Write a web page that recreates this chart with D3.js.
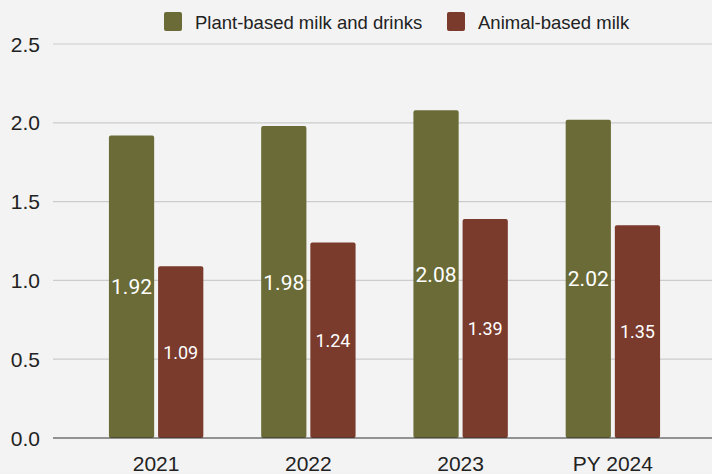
<!DOCTYPE html>
<html><head><meta charset="utf-8">
<script src="https://cdn.jsdelivr.net/npm/d3@7"></script>
<style>html,body{margin:0;padding:0;background:#f3f3f3;}</style>
</head><body>
<svg id="chart" width="712" height="474"></svg>
<script>
const categories = ["2021", "2022", "2023", "PY 2024"];
const seriesNames = ["Plant-based milk and drinks", "Animal-based milk"];
const plantValues = [1.92, 1.98, 2.08, 2.02];
const animalValues = [1.09, 1.24, 1.39, 1.35];
const yTicks = [0, 0.5, 1.0, 1.5, 2.0, 2.5];
const colors = ["#6a6b36", "#7a3a2c"];

const svg = d3.select("#chart");
svg.append("rect").attr("width", 712).attr("height", 474).attr("fill", "#f3f3f3");

const y = d3.scaleLinear().domain([0, 2.5]).range([438, 44]);
const x0 = d3.scaleBand().domain(categories).range([80, 689]).paddingInner(0.38).paddingOuter(0.19);
const x1 = d3.scaleBand().domain(seriesNames).range([0, x0.bandwidth()]).paddingInner(0.08);

// gridlines
svg.append("g").selectAll("line").data(yTicks.filter(t => t > 0)).join("line")
  .attr("x1", 53).attr("x2", 712)
  .attr("y1", d => y(d)).attr("y2", d => y(d))
  .attr("stroke", "#cccccc").attr("stroke-width", 1.2);

// y labels
svg.append("g").selectAll("text").data(yTicks).join("text")
  .attr("x", 40).attr("y", d => y(d)).attr("dy", "0.36em")
  .attr("text-anchor", "end")
  .attr("font-family", "Liberation Sans, Arial, sans-serif").attr("font-size", 21)
  .attr("fill", "#222").text(d => d.toFixed(1));

const data = categories.map((c, i) => ({cat: c, vals: [plantValues[i], animalValues[i]]}));

const groups = svg.append("g").selectAll("g").data(data).join("g")
  .attr("transform", d => `translate(${x0(d.cat)},0)`);

groups.selectAll("rect").data(d => d.vals.map((v, j) => ({name: seriesNames[j], v, j}))).join("rect")
  .attr("x", d => x1(d.name)).attr("width", x1.bandwidth())
  .attr("y", d => y(d.v)).attr("height", d => y(0) - y(d.v))
  .attr("rx", 2).attr("fill", d => colors[d.j]);

groups.selectAll("text.val").data(d => d.vals.map((v, j) => ({name: seriesNames[j], v, j}))).join("text")
  .attr("class", "val")
  .attr("x", d => x1(d.name) + x1.bandwidth() / 2)
  .attr("y", d => (y(d.v) + y(0)) / 2).attr("dy", "0.36em")
  .attr("text-anchor", "middle")
  .attr("font-family", "Roboto, sans-serif")
  .attr("font-size", d => d.j === 0 ? 21 : 18)
  .attr("fill", "#ffffff")
  .attr("stroke", d => d.j === 0 ? colors[0] : "none")
  .attr("stroke-width", 2).attr("paint-order", "stroke")
  .text(d => d.v.toFixed(2));

// baseline
svg.append("line").attr("x1", 53).attr("x2", 712).attr("y1", y(0)).attr("y2", y(0))
  .attr("stroke", "#333333").attr("stroke-width", 1.2);

// x labels
svg.append("g").selectAll("text").data(categories).join("text")
  .attr("x", d => x0(d) + x0.bandwidth() / 2).attr("y", 471)
  .attr("text-anchor", "middle")
  .attr("font-family", "Liberation Sans, Arial, sans-serif").attr("font-size", 21)
  .attr("fill", "#222").text(d => d);

// legend
const legendX = [164, 447];
const lg = svg.append("g").selectAll("g").data(seriesNames).join("g")
  .attr("transform", (d, i) => `translate(${legendX[i]},12)`);
lg.append("rect").attr("width", 18).attr("height", 19).attr("rx", 2)
  .attr("fill", (d, i) => colors[i]);
lg.append("text").attr("x", 31).attr("y", 10).attr("dy", "0.36em")
  .attr("font-family", "Liberation Sans, Arial, sans-serif").attr("font-size", 18.5)
  .attr("fill", "#222").text(d => d);
</script>
</body></html>
